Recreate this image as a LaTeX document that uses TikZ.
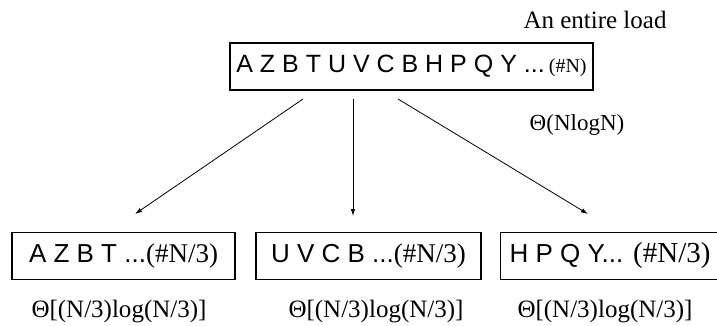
\documentclass[tikz,border=0pt]{standalone}
\usepackage{fontspec}
\setmainfont{Liberation Serif}
\newfontfamily\arialf{Liberation Sans}
\usetikzlibrary{arrows.meta}
\tikzset{
  box/.style={draw=black, line width=1.1pt, rectangle, inner sep=0pt, minimum height=47pt},
  lbl/.style={font=\fontsize{25}{30}\selectfont, inner sep=0pt},
  arr/.style={line width=0.8pt, -{Latex[length=7pt,width=4.5pt]}}
}
\newcommand{\smallser}[1]{{\rmfamily\fontsize{20}{24}\selectfont #1}}
\newcommand{\bigser}[1]{{\rmfamily\fontsize{27}{30}\selectfont #1}}
\newcommand{\boxsans}{\arialf\fontsize{26}{30}\selectfont}
\begin{document}
\begin{tikzpicture}[x=1pt,y=-1pt]
\useasboundingbox (0,0) rectangle (717,326);
\node[box, minimum width=363pt] (top) at (411.5,66.5)
  {\arialf\fontsize{25}{30}\selectfont A Z B T U V C B H P Q Y ...\,\smallser{(\#N)}};
\node[lbl] (load) at (595,20) {An entire load};
\node[lbl, font=\fontsize{23}{28}\selectfont] (cost) at (577,125) {Θ(NlogN)};

\node[box, minimum width=223pt] (b1) at (123.5,256)
  {\boxsans A Z B T ...\bigser{(\#N/3)}};
\node[box, minimum width=225pt] (b2) at (368.5,256)
  {\boxsans U V C B ...\bigser{(\#N/3)}};
\node[box, minimum width=222pt, anchor=west] (b3) at (500,256)
  {\makebox[222pt][l]{\hspace{9pt}\boxsans H P Q Y...\hspace{10pt}{\rmfamily\fontsize{29}{32}\selectfont (\#N/3)}}};

\node[lbl] (c1) at (119,312) {Θ[(N/3)log(N/3)]};
\node[lbl] (c2) at (376,312) {Θ[(N/3)log(N/3)]};
\node[lbl] (c3) at (605,312) {Θ[(N/3)log(N/3)]};

\coordinate (s1) at (303,99);
\coordinate (s2) at (353,99);
\coordinate (s3) at (398,99);
\coordinate (e1) at (135,214);
\coordinate (e2) at (353,216);
\coordinate (e3) at (588,214);
\draw[arr] (s1) -- (e1);
\draw[arr] (s2) -- (e2);
\draw[arr] (s3) -- (e3);
\end{tikzpicture}
\end{document}
